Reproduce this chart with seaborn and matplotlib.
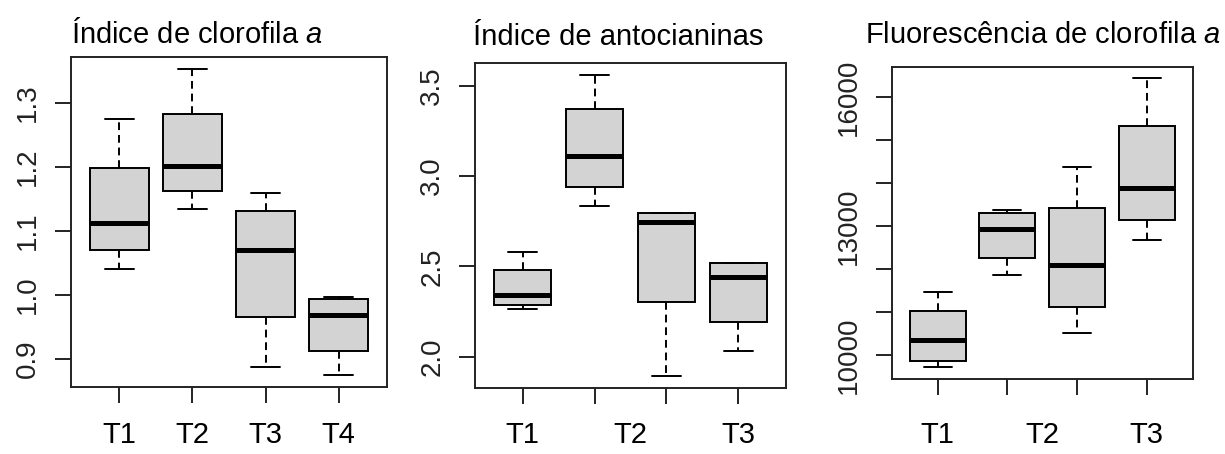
import numpy as np
import pandas as pd
import matplotlib
matplotlib.use("Agg")
import matplotlib.pyplot as plt
import matplotlib.transforms as mtransforms
import seaborn as sns

# box statistics: min, Q1, median, Q3, max
groups = ["T1", "T2", "T3", "T4"]

clorofila = [
    [1.041, 1.070, 1.112, 1.198, 1.275],
    [1.134, 1.162, 1.202, 1.283, 1.353],
    [0.887, 0.966, 1.070, 1.131, 1.159],
    [0.875, 0.912, 0.969, 0.994, 0.997],
]
antocianinas = [
    [2.263, 2.287, 2.343, 2.480, 2.578],
    [2.832, 2.941, 3.109, 3.374, 3.558],
    [1.891, 2.302, 2.747, 2.794, 2.794],
    [2.030, 2.194, 2.441, 2.519, 2.519],
]
fluorescencia = [
    [9720, 9876, 10356, 11033, 11469],
    [11865, 12269, 12945, 13304, 13374],
    [10520, 11119, 12105, 13421, 14377],
    [12674, 13148, 13901, 15333, 16443],
]

titles = ["Índice de clorofila $\\mathit{a}$",
          "Índice de antocianinas",
          "Fluorescência de clorofila $\\mathit{a}$"]
xlabels = [["T1", "T2", "T3", "T4"], ["T1", "T2", "T3"], ["T1", "T2", "T3"]]
yticks = [[0.9, 1.0, 1.1, 1.2, 1.3],
          [2.0, 2.5, 3.0, 3.5],
          [10000, 11000, 12000, 13000, 14000, 15000, 16000]]
yticklabels = [["0.9", "1.0", "1.1", "1.2", "1.3"],
               ["2.0", "2.5", "3.0", "3.5"],
               ["10000", "", "", "13000", "", "", "16000"]]

sns.set_style("white")
plt.rcParams["font.family"] = ["Liberation Sans", "DejaVu Sans"]
plt.rcParams["mathtext.fontset"] = "custom"
plt.rcParams["mathtext.rm"] = "Liberation Sans"
plt.rcParams["mathtext.it"] = "Liberation Sans:italic"

W, H = 1225, 454
fig = plt.figure(figsize=(W / 100, H / 100), dpi=100)

# axes frames in pixels: left, top, right, bottom
frames = [(71, 57, 387, 387), (475, 63.3, 786, 388.3), (891.7, 66.7, 1192.7, 379)]
title_pos = [(71, 42.7), (473, 45), (865, 42.7)]

for i, vals in enumerate([clorofila, antocianinas, fluorescencia]):
    l, t, r, b = frames[i]
    ax = fig.add_axes([l / W, 1 - b / H, (r - l) / W, (b - t) / H])
    df = pd.DataFrame({"grupo": np.repeat(groups, 5),
                       "valor": np.concatenate(vals)})
    sns.boxplot(data=df, x="grupo", y="valor", order=groups, ax=ax,
                color="#d3d3d3", linecolor="black", saturation=1,
                width=0.8, linewidth=1.4, whis=(0, 100), showfliers=False,
                whiskerprops=dict(linestyle=(0, (4, 2.5))),
                medianprops=dict(linewidth=3.6))

    # R style limits: 4% padding
    lo = min(v[0] for v in vals)
    hi = max(v[-1] for v in vals)
    pad = 0.04 * (hi - lo)
    ax.set_ylim(lo - pad, hi + pad)
    ax.set_xlim(-0.66, 3.66)

    ax.set_xticks(range(len(groups)))
    ax.set_xticklabels([])
    ax.set_yticks(yticks[i])
    ax.set_yticklabels(yticklabels[i], rotation=90, va="center")
    ax.set_xlabel("")
    ax.set_ylabel("")
    ax.tick_params(axis="both", direction="out", length=11.5, width=1.4,
                   color="#222222", labelsize=20, labelcolor="#222222")
    ax.tick_params(axis="y", pad=10, left=True)
    ax.tick_params(axis="x", bottom=True)
    for s in ax.spines.values():
        s.set_visible(True)
        s.set_color("#222222")
        s.set_linewidth(1.4)

    # category labels below, spread from first to last box
    trans = mtransforms.blended_transform_factory(ax.transData, fig.transFigure)
    pos = np.linspace(0, len(groups) - 1, len(xlabels[i]))
    for p, lab in zip(pos, xlabels[i]):
        ax.text(p, 1 - 421 / H, lab, transform=trans, ha="center", va="top",
                fontsize=21, color="black")

    tx, ty = title_pos[i]
    fig.text(tx / W, 1 - ty / H, titles[i], ha="left", va="baseline",
             fontsize=21, color="black")

fig.savefig("out.png", dpi=100)
